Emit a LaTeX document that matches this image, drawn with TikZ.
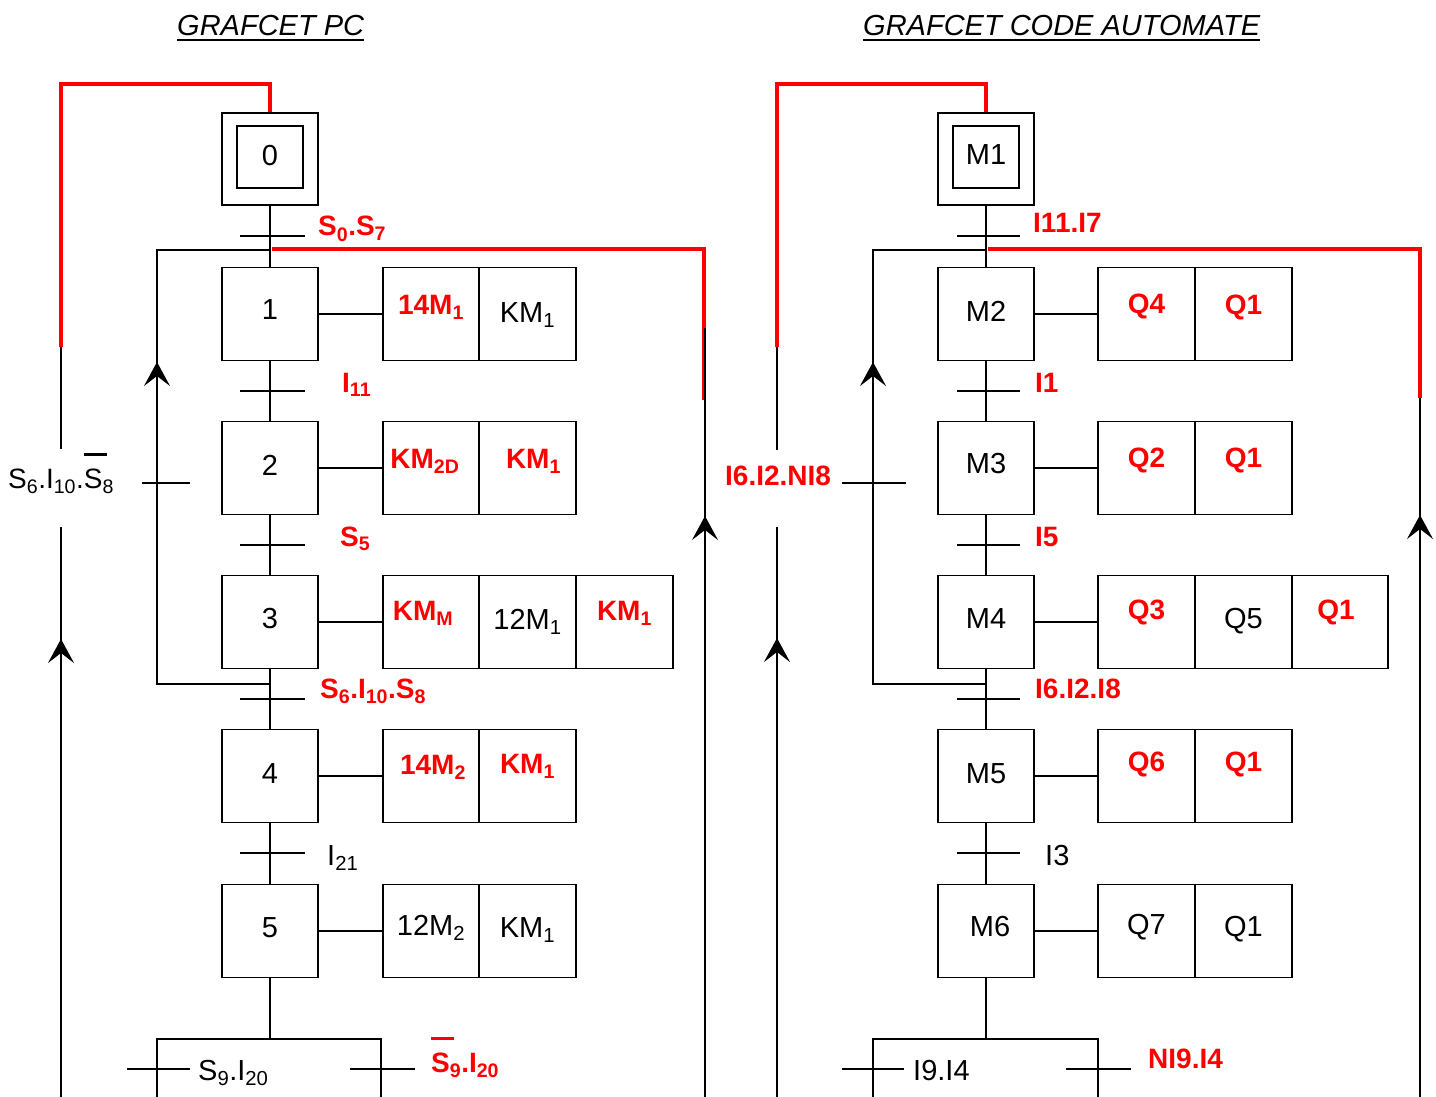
\documentclass[tikz,border=0pt]{standalone}
\usepackage{fontspec}
\setmainfont{Liberation Sans}
\usetikzlibrary{arrows.meta}
\newcommand\sbs[1]{\textsubscript{#1}}
\newcommand\ovl[1]{\setbox0=\hbox{#1}\rlap{\raisebox{\dimexpr\ht0+12pt\relax}{\rule{\dimexpr\wd0+4pt\relax}{3pt}}}\box0}
\definecolor{rr}{RGB}{255,0,0}
\begin{document}
\begin{tikzpicture}[x=1pt,y=-1pt,
  stepbox/.style={draw, line width=1.8pt, minimum width=96pt, minimum height=93pt, inner sep=0pt},
  actbox/.style={draw, line width=1.8pt, minimum width=96.5pt, minimum height=93pt, inner sep=0pt},
  ln/.style={line width=1.8pt},
  rd/.style={rr, line width=4pt, line join=miter},
  trbar/.style={line width=1.8pt},
  bt/.style={font=\fontsize{29}{31}\selectfont, inner sep=0pt},
  rt/.style={text=rr, font=\bfseries\fontsize{28}{30}\selectfont, inner sep=0pt},
  lbl/.style={bt, anchor=base west},
  rlbl/.style={rt, anchor=base west},
  upar/.style={-{Stealth[length=24pt,width=26pt,inset=10pt]}, line width=1.8pt},
  ttl/.style={font=\itshape\fontsize{29}{31}\selectfont, inner sep=0pt, anchor=base west}
]
\useasboundingbox (0,0) rectangle (1436,1097);
\fill[white] (0,0) rectangle (1436,1097);

% titles
\node[ttl] (t1) at (177,36) {GRAFCET PC};
\draw[line width=2pt] ([yshift=-4.5pt]t1.base west) -- ([yshift=-4.5pt]t1.base east);
\node[ttl] (t2) at (863,36) {GRAFCET CODE AUTOMATE};
\draw[line width=2pt] ([yshift=-4.5pt]t2.base west) -- ([yshift=-4.5pt]t2.base east);

% ================= LEFT GRAFCET =================
\node[stepbox, minimum height=92pt] (s0) at (270,159) {};
\node[stepbox, minimum width=66pt, minimum height=62pt] (s0i) at (270,157) {};
\node[stepbox] (s1) at (270,314) {};
\node[stepbox] (s2) at (270,468) {};
\node[stepbox] (s3) at (270,622) {};
\node[stepbox] (s4) at (270,776) {};
\node[stepbox] (s5) at (270,931) {};
\node[bt] at ([yshift=1pt]s0i.center) {0};
\node[bt] at ([yshift=4pt]s1.center) {1};
\node[bt] at ([yshift=3pt]s2.center) {2};
\node[bt] at ([yshift=3pt]s3.center) {3};
\node[bt] at ([yshift=2pt]s4.center) {4};
\node[bt] at ([yshift=3pt]s5.center) {5};

% main vertical
\draw[ln] (s0.south) -- (s1.north);
\draw[ln] (s1.south) -- (s2.north);
\draw[ln] (s2.south) -- (s3.north);
\draw[ln] (s3.south) -- (s4.north);
\draw[ln] (s4.south) -- (s5.north);
\coordinate (ldiv) at (270,1039);
\draw[ln] (s5.south) -- (ldiv);

% transitions
\draw[trbar] (240,236) -- (305,236);
\draw[trbar] (240,391) -- (305,391);
\draw[trbar] (240,545) -- (305,545);
\draw[trbar] (240,699) -- (305,699);
\draw[trbar] (240,853) -- (305,853);
\node[rlbl] at (318,236) {S\sbs{0}.S\sbs{7}};
\node[rlbl] at (342,392) {I\sbs{11}};
\node[rlbl] at (340,546) {S\sbs{5}};
\node[rlbl] at (320,698) {S\sbs{6}.I\sbs{10}.S\sbs{8}};
\node[lbl] at (327,865) {I\sbs{21}};

% loop 3 -> 1
\coordinate (lj1) at (270,250);
\coordinate (lj3) at (270,684);
\draw[ln] (lj3) -- (157,684) -- (157,250) -- (lj1);
\draw[upar] (157,400) -- (157,362);
\draw[trbar] (142,483) -- (190,483);
\node[lbl, font=\fontsize{28}{30}\selectfont] at (8,488) {S\sbs{6}.I\sbs{10}.\ovl{S}\sbs{8}};

% red connections
\draw[rd] (272,249) -- (704,249) -- (704,400);
\draw[rd] (61,347) -- (61,84) -- (270,84) -- (s0.north);
\draw[ln] (61,347) -- (61,449);
\draw[ln] (61,527) -- (61,1097);
\draw[upar] (61,680) -- (61,639);
\draw[ln] (705,328) -- (705,1097);
\draw[upar] (705,560) -- (705,516);

% bottom divergence
\draw[ln] (157,1097) -- (157,1039) -- (381,1039) -- (381,1097);
\draw[trbar] (127,1069) -- (190,1069);
\draw[trbar] (350,1069) -- (415,1069);
\node[lbl] at (198,1080) {S\sbs{9}.I\sbs{20}};
\node[rlbl] at (431,1072) {\ovl{S}\sbs{9}.I\sbs{20}};

% actions left
\node[actbox] (a11) at (431,314) {};
\node[actbox] (a12) at (527.5,314) {};
\draw[ln] (s1.east) -- (a11.west);
\node[rt] at ([yshift=7pt]a11.center) {14M\sbs{1}};
\node[bt] at ([yshift=-1pt]a12.center) {KM\sbs{1}};

\node[actbox] (a21) at (431,468) {};
\node[actbox] (a22) at (527.5,468) {};
\draw[ln] (s2.east) -- (a21.west);
\node[rt] at ([xshift=-6pt,yshift=7pt]a21.center) {KM\sbs{2D}};
\node[rt] at ([xshift=6pt,yshift=7pt]a22.center) {KM\sbs{1}};

\node[actbox] (a31) at (431,622) {};
\node[actbox] (a32) at (527.5,622) {};
\node[actbox] (a33) at (624.5,622) {};
\draw[ln] (s3.east) -- (a31.west);
\node[rt] at ([xshift=-8pt,yshift=9pt]a31.center) {KM\sbs{M}};
\node[bt] at ([yshift=0pt]a32.center) {12M\sbs{1}};
\node[rt] at ([yshift=9pt]a33.center) {KM\sbs{1}};

\node[actbox] (a41) at (431,776) {};
\node[actbox] (a42) at (527.5,776) {};
\draw[ln] (s4.east) -- (a41.west);
\node[rt] at ([xshift=2pt,yshift=9pt]a41.center) {14M\sbs{2}};
\node[rt] at ([yshift=10pt]a42.center) {KM\sbs{1}};

\node[actbox] (a51) at (431,931) {};
\node[actbox] (a52) at (527.5,931) {};
\draw[ln] (s5.east) -- (a51.west);
\node[bt] at ([yshift=3pt]a51.center) {12M\sbs{2}};
\node[bt] at ([yshift=1pt]a52.center) {KM\sbs{1}};

% ================= RIGHT GRAFCET =================
\node[stepbox, minimum height=92pt] (m1) at (986,159) {};
\node[stepbox, minimum width=66pt, minimum height=62pt] (m1i) at (986,157) {};
\node[stepbox] (m2) at (986,314) {};
\node[stepbox] (m3) at (986,468) {};
\node[stepbox] (m4) at (986,622) {};
\node[stepbox] (m5) at (986,776) {};
\node[stepbox] (m6) at (986,931) {};
\node[bt] at ([yshift=2pt]m1i.center) {M1};
\node[bt] at ([yshift=3pt]m2.center) {M2};
\node[bt] at ([yshift=4pt]m3.center) {M3};
\node[bt] at ([yshift=3pt]m4.center) {M4};
\node[bt] at ([yshift=2pt]m5.center) {M5};
\node[bt] at ([xshift=4pt,yshift=4pt]m6.center) {M6};

\draw[ln] (m1.south) -- (m2.north);
\draw[ln] (m2.south) -- (m3.north);
\draw[ln] (m3.south) -- (m4.north);
\draw[ln] (m4.south) -- (m5.north);
\draw[ln] (m5.south) -- (m6.north);
\coordinate (rdiv) at (986,1039);
\draw[ln] (m6.south) -- (rdiv);

\draw[trbar] (957,236) -- (1020,236);
\draw[trbar] (957,391) -- (1020,391);
\draw[trbar] (957,545) -- (1020,545);
\draw[trbar] (957,699) -- (1020,699);
\draw[trbar] (957,853) -- (1020,853);
\node[rlbl] at (1033,233) {I11.I7};
\node[rlbl] at (1035,392) {I1};
\node[rlbl] at (1035,546) {I5};
\node[rlbl] at (1035,698) {I6.I2.I8};
\node[lbl] at (1045,865) {I3};

\coordinate (rj1) at (986,250);
\coordinate (rj3) at (986,684);
\draw[ln] (rj3) -- (873,684) -- (873,250) -- (rj1);
\draw[upar] (873,400) -- (873,362);
\draw[trbar] (842,483) -- (906,483);
\node[rlbl] at (725,485) {I6.I2.NI8};

\draw[rd] (988,249) -- (1420,249) -- (1420,398);
\draw[rd] (777,347) -- (777,84) -- (986,84) -- (m1.north);
\draw[ln] (777,347) -- (777,450);
\draw[ln] (777,527) -- (777,1097);
\draw[upar] (777,680) -- (777,638);
\draw[ln] (1420,398) -- (1420,1097);
\draw[upar] (1420,560) -- (1420,515);

\draw[ln] (873,1097) -- (873,1039) -- (1098,1039) -- (1098,1097);
\draw[trbar] (842,1069) -- (904,1069);
\draw[trbar] (1066,1069) -- (1131,1069);
\node[lbl] at (913,1080) {I9.I4};
\node[rlbl] at (1148,1068) {NI9.I4};

% actions right
\node[actbox] (b21) at (1146.5,314) {};
\node[actbox] (b22) at (1243.5,314) {};
\draw[ln] (m2.east) -- (b21.west);
\node[rt] at ([yshift=8pt]b21.center) {Q4};
\node[rt] at ([yshift=7pt]b22.center) {Q1};

\node[actbox] (b31) at (1146.5,468) {};
\node[actbox] (b32) at (1243.5,468) {};
\draw[ln] (m3.east) -- (b31.west);
\node[rt] at ([yshift=8pt]b31.center) {Q2};
\node[rt] at ([yshift=8pt]b32.center) {Q1};

\node[actbox] (b41) at (1146.5,622) {};
\node[actbox] (b42) at (1243.5,622) {};
\node[actbox] (b43) at (1340,622) {};
\draw[ln] (m4.east) -- (b41.west);
\node[rt] at ([yshift=10pt]b41.center) {Q3};
\node[bt] at ([yshift=1pt]b42.center) {Q5};
\node[rt] at ([xshift=-4pt,yshift=10pt]b43.center) {Q1};

\node[actbox] (b51) at (1146.5,776) {};
\node[actbox] (b52) at (1243.5,776) {};
\draw[ln] (m5.east) -- (b51.west);
\node[rt] at ([yshift=12pt]b51.center) {Q6};
\node[rt] at ([yshift=12pt]b52.center) {Q1};

\node[actbox] (b61) at (1146.5,931) {};
\node[actbox] (b62) at (1243.5,931) {};
\draw[ln] (m6.east) -- (b61.west);
\node[bt] at ([yshift=4pt]b61.center) {Q7};
\node[bt] at ([yshift=2pt]b62.center) {Q1};
\end{tikzpicture}
\end{document}
